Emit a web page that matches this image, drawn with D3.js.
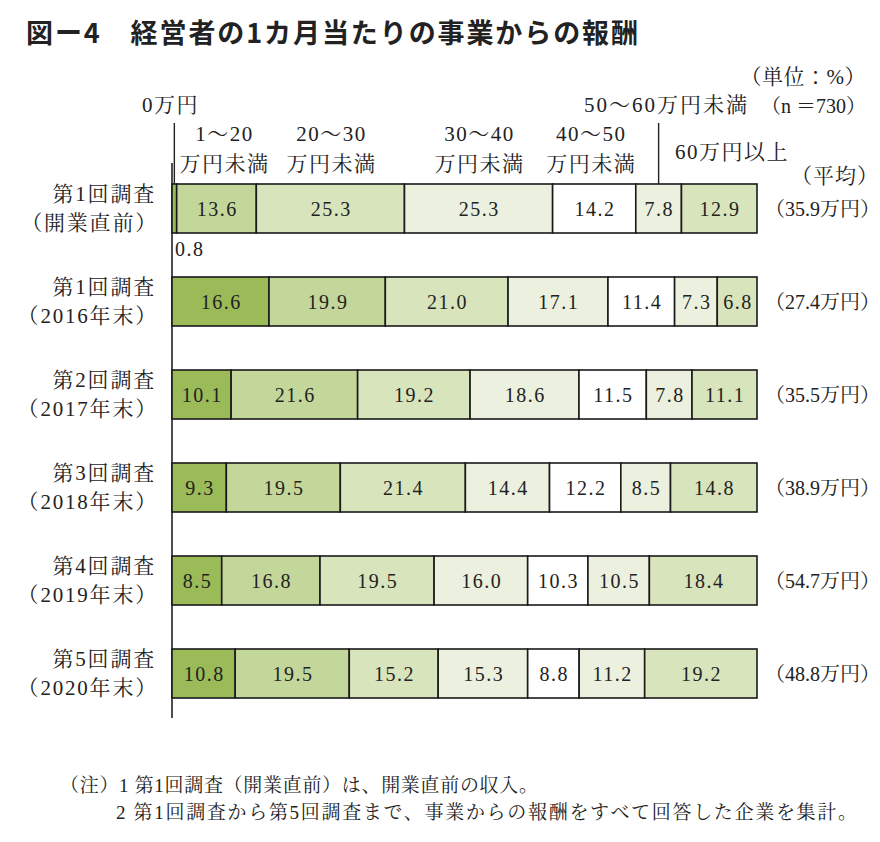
<!DOCTYPE html>
<html><head><meta charset="utf-8">
<script src="https://cdn.jsdelivr.net/npm/d3@7"></script>
<style>
html,body{margin:0;padding:0;background:#fff;}
svg{display:block;}
text{fill:#222;}
</style></head>
<body>
<svg id="chart" width="880" height="842"></svg>
<script>
// ---- data ----
const categories = ["0万円","1～20万円未満","20～30万円未満","30～40万円未満","40～50万円未満","50～60万円未満","60万円以上"];
const surveyNames = ["第1回調査","第1回調査","第2回調査","第3回調査","第4回調査","第5回調査"];
const surveyPeriods = ["（開業直前）","（2016年末）","（2017年末）","（2018年末）","（2019年末）","（2020年末）"];
const values = [
  [0.8, 13.6, 25.3, 25.3, 14.2, 7.8, 12.9],
  [16.6, 19.9, 21.0, 17.1, 11.4, 7.3, 6.8],
  [10.1, 21.6, 19.2, 18.6, 11.5, 7.8, 11.1],
  [9.3, 19.5, 21.4, 14.4, 12.2, 8.5, 14.8],
  [8.5, 16.8, 19.5, 16.0, 10.3, 10.5, 18.4],
  [10.8, 19.5, 15.2, 15.3, 8.8, 11.2, 19.2]
];
const averages = [35.9, 27.4, 35.5, 38.9, 54.7, 48.8];
const headLine1 = ["", "1～20", "20～30", "30～40", "40～50", "", ""];
const headLine2 = ["", "万円未満", "万円未満", "万円未満", "万円未満", "", ""];

// ---- styles ----
const colors = ["#9bbb59","#c4d79b","#d8e4bc","#ebf1de","#ffffff","#ebf1de","#d8e4bc"];
const serif = "'Liberation Serif','Noto Serif CJK JP','Noto Sans CJK JP',serif";
const gothic = "'Noto Sans CJK JP',sans-serif";

const svg = d3.select("#chart");

const x = d3.scaleLinear().domain([0, 100]).range([172, 757]);
const y = d3.scaleBand().domain(d3.range(values.length)).range([162, 720]).paddingInner(44/93).paddingOuter(22/93);

// stacked (normalized to 100%)
const rows = values.map((vals, i) => {
  const total = d3.sum(vals);
  let acc = 0;
  return vals.map((v, j) => {
    const s = acc / total * 100; acc += v;
    return {row: i, cat: j, v, x0: s, x1: acc / total * 100};
  });
});

function label(sel, size, ls) {
  return sel.attr("font-family", serif).attr("font-size", size).attr("letter-spacing", ls);
}

// title
svg.append("text").attr("x", 26).attr("y", 43)
  .attr("font-family", gothic).attr("font-weight", "bold").attr("font-size", 27)
  .attr("textLength", 612).attr("lengthAdjust", "spacing")
  .text("図ー4　経営者の1カ月当たりの事業からの報酬");

// unit labels
label(svg.append("text").attr("x", 866).attr("y", 84).attr("text-anchor", "end"), 21, 0.5).text("（単位：%）");
label(svg.append("text").attr("x", 866).attr("y", 113).attr("text-anchor", "end"), 20, 0).text("（n ＝730）");

// axis line
svg.append("line").attr("x1", x(0)).attr("x2", x(0)).attr("y1", 163).attr("y2", 718)
  .attr("stroke", "#222").attr("stroke-width", 1.6);

// header labels derived from first row
const r0 = rows[0];
const midX = d => x((d.x0 + d.x1) / 2);
// 0万円 tick
svg.append("line").attr("x1", midX(r0[0])).attr("x2", midX(r0[0])).attr("y1", 123).attr("y2", y(0))
  .attr("stroke", "#222").attr("stroke-width", 1.4);
label(svg.append("text").attr("x", 142).attr("y", 112), 21, 1.5).text(categories[0]);
// 50-60 tick
svg.append("line").attr("x1", midX(r0[5])).attr("x2", midX(r0[5])).attr("y1", 123).attr("y2", y(0))
  .attr("stroke", "#222").attr("stroke-width", 1.4);
label(svg.append("text").attr("x", 749).attr("y", 112).attr("text-anchor", "end"), 21, 2).text(categories[5]);
// 60万円以上
label(svg.append("text").attr("x", 675).attr("y", 159), 21, 1.5).text(categories[6]);
label(svg.append("text").attr("x", 791).attr("y", 183), 21, 1).text("（平均）");

// middle categories (two lines)
const headerOffsets = [0, 8, 1, 1, -3, 0, 0];
const heads = d3.range(1, 5);
label(svg.selectAll("text.h1").data(heads).join("text").attr("class", "h1")
  .attr("x", j => midX(r0[j]) + headerOffsets[j]).attr("y", 141).attr("text-anchor", "middle"), 21, 1.5)
  .text(j => headLine1[j]);
label(svg.selectAll("text.h2").data(heads).join("text").attr("class", "h2")
  .attr("x", j => midX(r0[j]) + headerOffsets[j]).attr("y", 171).attr("text-anchor", "middle"), 21, 1.5)
  .text(j => headLine2[j]);

// bars
const g = svg.append("g");
const rowG = g.selectAll("g.row").data(rows).join("g").attr("class", "row");
rowG.selectAll("rect").data(d => d).join("rect")
  .attr("x", d => x(d.x0)).attr("width", d => x(d.x1) - x(d.x0))
  .attr("y", d => y(d.row)).attr("height", y.bandwidth())
  .attr("fill", d => colors[d.cat]).attr("stroke", "#1a1a1a").attr("stroke-width", 1.6);

label(rowG.selectAll("text.val").data(d => d).join("text").attr("class", "val")
  .attr("x", d => d.v < 3 ? x(d.x0) + 3 : midX(d) + 0.75)
  .attr("y", d => d.v < 3 ? y(d.row) + y.bandwidth() + 23 : y(d.row) + y.bandwidth() / 2 + 7)
  .attr("text-anchor", d => d.v < 3 ? "start" : "middle"), 20, 1.5)
  .text(d => d.v.toFixed(1));

// row labels
label(svg.selectAll("text.rn").data(surveyNames).join("text").attr("class", "rn")
  .attr("x", 156).attr("y", (d, i) => y(i) + y.bandwidth() / 2 - 8)
  .attr("text-anchor", "end"), 21, 1.8).text(d => d);
label(svg.selectAll("text.rp").data(surveyPeriods).join("text").attr("class", "rp")
  .attr("x", 158).attr("y", (d, i) => y(i) + y.bandwidth() / 2 + 21)
  .attr("text-anchor", "end"), 21, 1.8).text(d => d);

// averages
label(svg.selectAll("text.avg").data(averages).join("text").attr("class", "avg")
  .attr("x", 765).attr("y", (d, i) => y(i) + y.bandwidth() / 2 + 7), 20, 0)
  .text(d => "（" + d.toFixed(1) + "万円）");

// notes
svg.append("text").attr("x", 60).attr("y", 792).attr("font-family", serif).attr("font-size", 19)
  .attr("textLength", 478).attr("lengthAdjust", "spacing")
  .text("（注）1 第1回調査（開業直前）は、開業直前の収入。");
svg.append("text").attr("x", 116).attr("y", 819).attr("font-family", serif).attr("font-size", 19)
  .attr("textLength", 741).attr("lengthAdjust", "spacing")
  .text("2 第1回調査から第5回調査まで、事業からの報酬をすべて回答した企業を集計。");
</script>
</body></html>
